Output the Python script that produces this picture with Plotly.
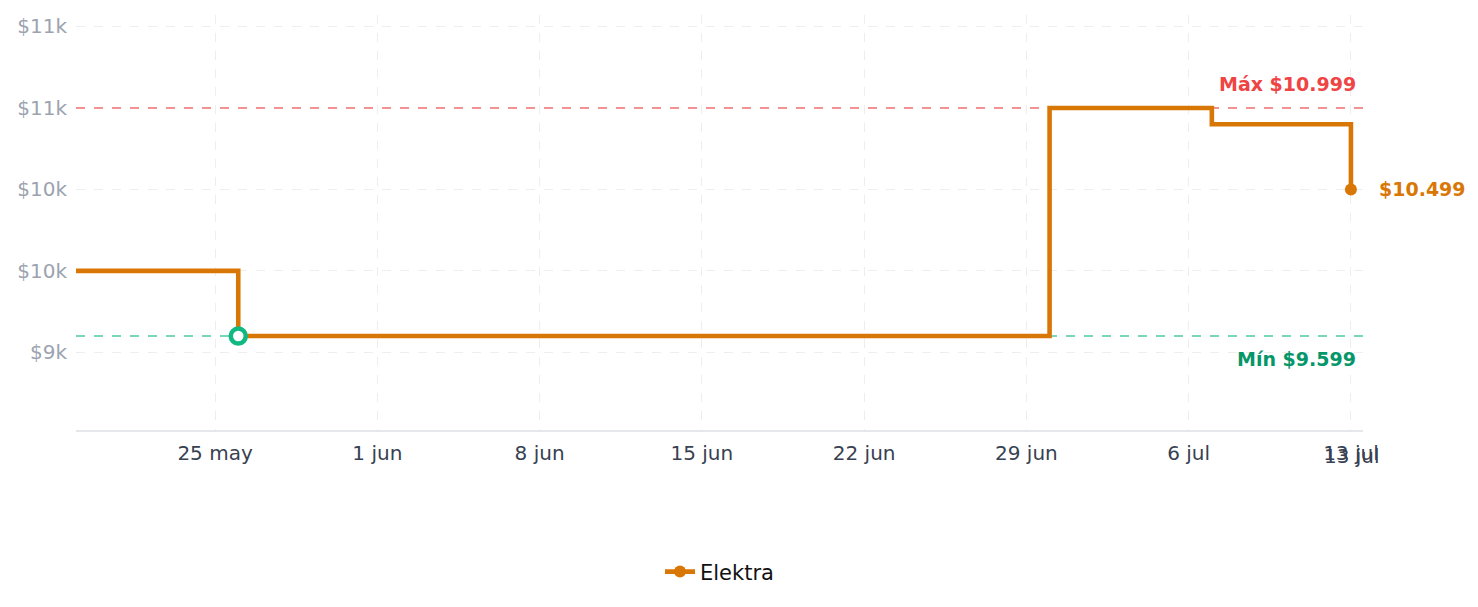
import plotly.graph_objects as go

# Data
dates = ["2025-05-19", "2025-05-26", "2025-06-30", "2025-07-07", "2025-07-13"]
prices = [9999, 9599, 10999, 10899, 10499]
series_name = "Elektra"

min_price = 9599
min_date = "2025-05-26"
max_price = 10999
last_date = "2025-07-13"
last_price = 10499

tick_dates = ["2025-05-25", "2025-06-01", "2025-06-08", "2025-06-15",
              "2025-06-22", "2025-06-29", "2025-07-06", "2025-07-13"]
tick_date_labels = ["25 may", "1 jun", "8 jun", "15 jun", "22 jun", "29 jun", "6 jul", "13 jul"]
y_ticks = [9500, 10000, 10500, 11000, 11500]
y_tick_labels = ["$9k", "$10k", "$10k", "$11k", "$11k"]

ORANGE = "#d97706"
RED = "#ef4444"
GREEN = "#10b981"
GREEN_DARK = "#059669"
FONT = "DejaVu Sans"

x_range = ["2025-05-19 00:00", "2025-07-13 12:30"]
y_range = [9022, 11570]

fig = go.Figure()

# reference lines
fig.add_trace(go.Scatter(x=x_range, y=[max_price, max_price], mode="lines",
                         line=dict(color=RED, width=1.5, dash="dash"), opacity=0.75,
                         showlegend=False, hoverinfo="skip"))
fig.add_trace(go.Scatter(x=x_range, y=[min_price, min_price], mode="lines",
                         line=dict(color=GREEN, width=1.5, dash="dash"), opacity=0.75,
                         showlegend=False, hoverinfo="skip"))

# main step line
fig.add_trace(go.Scatter(x=dates, y=prices, mode="lines", name=series_name,
                         line=dict(color=ORANGE, width=4.6, shape="hv"),
                         showlegend=False))
# legend entry
fig.add_trace(go.Scatter(x=[None], y=[None], mode="lines+markers", name=series_name,
                         line=dict(color=ORANGE, width=4.6),
                         marker=dict(color=ORANGE, size=12), showlegend=True))

# last point marker
fig.add_trace(go.Scatter(x=[last_date], y=[last_price], mode="markers",
                         marker=dict(color=ORANGE, size=12), showlegend=False))
# min point marker
fig.add_trace(go.Scatter(x=[min_date], y=[min_price], mode="markers",
                         marker=dict(color="white", size=15, line=dict(color=GREEN, width=4.5)),
                         showlegend=False))

fig.add_annotation(x=1, xref="paper", y=max_price, yref="y", text="<b>Máx $10.999</b>",
                   showarrow=False, xanchor="right", yanchor="middle", xshift=-5, yshift=24,
                   font=dict(family=FONT, size=19, color=RED))
fig.add_annotation(x=1, xref="paper", y=min_price, yref="y", text="<b>Mín $9.599</b>",
                   showarrow=False, xanchor="right", yanchor="middle", xshift=-5, yshift=-23,
                   font=dict(family=FONT, size=19, color=GREEN_DARK))
fig.add_annotation(x=last_date, y=last_price, text="<b>$10.499</b>",
                   showarrow=False, xanchor="left", yanchor="middle", xshift=26,
                   font=dict(family=FONT, size=19, color=ORANGE))
fig.add_annotation(x=last_date, xref="x", y=0, yref="paper", text="13 jul",
                   showarrow=False, xanchor="center", yanchor="middle", xshift=1, yshift=-26,
                   font=dict(family=FONT, size=20, color="#374151"))

fig.update_layout(
    width=1478, height=607,
    margin=dict(l=76, r=115, t=15, b=177),
    paper_bgcolor="white", plot_bgcolor="white",
    font=dict(family=FONT, size=20, color="#374151"),
    showlegend=True,
    legend=dict(orientation="h", x=0.5, xanchor="center", y=-0.342, yanchor="middle",
                font=dict(family=FONT, size=21, color="#111111")),
    xaxis=dict(type="date", range=x_range, tickvals=tick_dates, ticktext=tick_date_labels,
               showgrid=True, gridcolor="#eeeeee", griddash="dash", gridwidth=1,
               showline=True, linecolor="#e5e7eb", linewidth=1.5, zeroline=False,
               tickfont=dict(family=FONT, size=20, color="#374151"), ticks="",
               ticklabelstandoff=4),
    yaxis=dict(range=y_range, tickvals=y_ticks, ticktext=y_tick_labels,
               showgrid=True, gridcolor="#eeeeee", griddash="dash", gridwidth=1,
               showline=False, zeroline=False, ticks="", ticklabelstandoff=8,
               tickfont=dict(family=FONT, size=20, color="#9ca3af")),
)

fig.write_html("out.html")
